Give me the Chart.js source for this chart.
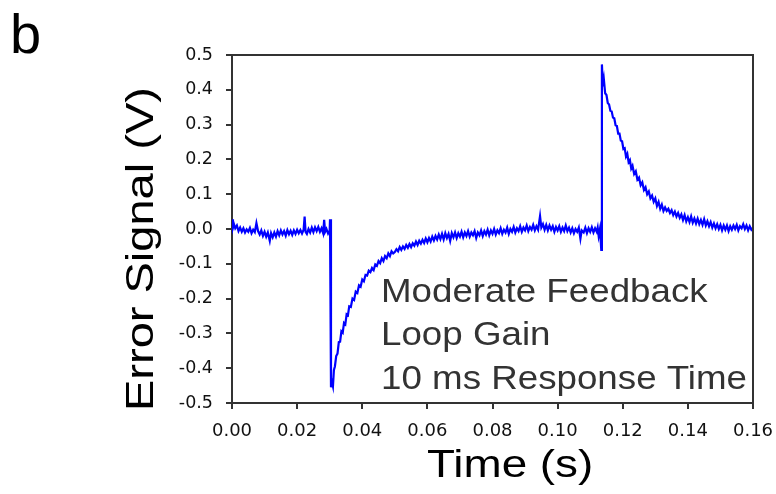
<!DOCTYPE html>
<html>
<head>
<meta charset="utf-8">
<title>Error signal</title>
<script src="https://cdn.jsdelivr.net/npm/chart.js@4.4.1/dist/chart.umd.min.js"></script>
<style>
html, body { margin: 0; padding: 0; background: #fff; }
#wrap { position: relative; width: 776px; height: 494px; }
</style>
</head>
<body>
<div id="wrap"><canvas id="errchart" width="776" height="494"></canvas></div>
<script>
// Trace: [time in ms, error signal in V]
var preStepTrace = [
    [0, 0.028], [0.3, 0.004], [0.6, 0.014], [1, 0.002], [1.5, 0.01], [2, -0.006], [2.5, 0.004],
    [3, -0.008], [3.5, 0.002], [4, -0.01], [4.5, -0.001], [5, -0.008], [5.5, 0.003], [6, -0.012],
    [6.5, -0.002], [7, -0.009], [7.5, 0.017], [8, -0.006], [8.5, -0.016], [9, -0.004], [9.5, -0.02],
    [10, -0.008], [10.5, -0.022], [11, -0.01], [11.6, -0.034], [12, -0.012], [12.5, -0.024],
    [13, -0.01], [13.5, -0.022], [14, -0.006], [14.5, -0.018], [15, -0.004], [15.5, -0.016],
    [16, -0.006], [16.5, -0.019], [17, -0.003], [17.5, -0.015], [18, -0.005], [18.5, -0.017],
    [19, -0.004], [19.5, -0.014], [20, -0.002], [20.5, -0.012], [21, -0.003], [21.5, -0.013],
    [22, -0.002], [22.3, 0.036], [22.6, -0.008], [23, -0.014], [23.5, 0.0], [24, -0.01],
    [24.5, 0.004], [25, -0.009], [25.5, 0.005], [26, -0.006], [26.5, 0.006], [27, -0.008],
    [27.5, 0.002], [28, -0.012], [28.3, 0.026], [28.6, -0.008], [29, 0.0], [29.5, -0.013],
    [30, -0.004], [30.1, 0.028]
];
var dipTrace = [
    [30.4, -0.455], [30.7, -0.44], [31, -0.452], [31.3, -0.405], [31.6, -0.395], [32, -0.365],
    [32.4, -0.358], [32.8, -0.325], [33.2, -0.324], [33.6, -0.294], [34, -0.298], [34.4, -0.27],
    [34.8, -0.274], [35.2, -0.245], [35.6, -0.248], [36, -0.222], [36.5, -0.224], [37, -0.2],
    [37.5, -0.204], [38, -0.18], [38.5, -0.184], [39, -0.162], [39.5, -0.166], [40, -0.145],
    [40.5, -0.15], [41, -0.132], [41.5, -0.134], [42, -0.12], [42.5, -0.124], [43, -0.112],
    [43.5, -0.118], [44, -0.102], [44.5, -0.106], [45, -0.092], [45.5, -0.098], [46, -0.084],
    [46.5, -0.092], [47, -0.078], [47.5, -0.084], [48, -0.07], [48.5, -0.078], [49, -0.064],
    [49.5, -0.07]
];
var settleTrace = [
    [50, -0.066], [50.5, -0.058], [51, -0.064], [51.5, -0.052], [52, -0.06], [52.5, -0.05],
    [53, -0.057], [53.5, -0.046], [54, -0.054], [54.5, -0.043], [55, -0.052], [55.5, -0.041],
    [56, -0.048], [56.5, -0.036], [57, -0.046], [57.5, -0.034], [58, -0.042], [58.5, -0.031],
    [59, -0.04], [59.5, -0.027], [60, -0.038], [60.5, -0.026], [61, -0.036], [61.5, -0.022],
    [62, -0.033], [62.5, -0.02], [63, -0.03], [63.5, -0.016], [64, -0.029], [64.5, -0.014],
    [65, -0.03], [65.5, -0.012], [66, -0.026], [66.5, -0.014], [67, -0.034], [67.5, -0.012],
    [68, -0.024], [68.5, -0.01], [69, -0.026], [69.5, -0.012], [70, -0.022], [70.5, -0.008],
    [71, -0.024], [71.5, -0.01], [72, -0.02], [72.5, -0.006], [73, -0.022], [73.5, -0.01],
    [74, -0.018], [74.5, -0.006], [75, -0.026], [75.5, -0.01], [76, -0.018], [76.5, -0.004],
    [77, -0.02], [77.5, -0.006], [78, -0.016], [78.5, -0.002], [79, -0.018], [79.5, -0.004],
    [80, -0.014], [80.5, 0.0], [81, -0.016], [81.5, -0.004], [82, -0.012], [82.5, 0.002],
    [83, -0.014], [83.5, -0.002], [84, -0.01], [84.5, 0.004], [85, -0.014], [85.5, 0.0],
    [86, -0.008], [86.5, 0.006], [87, -0.01], [87.5, 0.002], [88, -0.006], [88.5, 0.008],
    [89, -0.008], [89.5, 0.004], [90, -0.004], [90.5, 0.01], [91, -0.006], [91.5, 0.006],
    [92, -0.002], [92.5, 0.012], [93, -0.004], [93.5, 0.008], [94, -0.002], [94.6, 0.037],
    [95, 0.004], [95.5, 0.014], [96, -0.002], [96.5, 0.012], [97, -0.004], [97.5, 0.01],
    [98, -0.002], [98.5, 0.008], [99, -0.008], [99.5, 0.006], [100, -0.004], [100.5, 0.008],
    [101, -0.008], [101.5, 0.004], [102, -0.006], [102.5, 0.01], [103, -0.006], [103.5, 0.004],
    [104, -0.01], [104.5, 0.002], [105, -0.012], [105.5, 0.0], [106, -0.008], [106.5, 0.004],
    [107, -0.028], [107.4, -0.004], [108, -0.01], [108.5, 0.004], [109, -0.012], [109.5, 0.002],
    [110, -0.008], [110.5, 0.005], [111, -0.01], [111.5, 0.002], [112, -0.008], [112.3, 0.004],
    [112.6, -0.02], [113, 0.0], [113.4, -0.06]
];
var kickTrace = [
    [113.6, 0.473], [113.9, 0.41], [114.2, 0.43], [114.6, 0.39], [115, 0.385], [115.4, 0.362],
    [115.8, 0.358], [116.2, 0.34], [116.6, 0.338], [117, 0.32], [117.4, 0.318], [117.8, 0.298],
    [118.2, 0.296], [118.6, 0.274], [119, 0.274], [119.4, 0.254], [119.8, 0.252], [120.2, 0.23],
    [120.6, 0.232], [121, 0.208], [121.4, 0.216], [121.8, 0.192], [122.2, 0.198], [122.6, 0.174],
    [123, 0.182], [123.5, 0.158], [124, 0.166], [124.5, 0.142], [125, 0.148], [125.5, 0.126],
    [126, 0.134], [126.5, 0.112], [127, 0.12], [127.5, 0.1], [128, 0.108], [128.5, 0.088],
    [129, 0.096], [129.5, 0.078], [130, 0.088], [130.5, 0.066], [131, 0.078], [131.5, 0.058],
    [132, 0.07], [132.5, 0.052]
];
var tailTrace = [
    [133, 0.062], [133.5, 0.052], [134, 0.058], [134.5, 0.046], [135, 0.054], [135.5, 0.04],
    [136, 0.05], [136.5, 0.036], [137, 0.046], [137.5, 0.032], [138, 0.042], [138.5, 0.026],
    [139, 0.04], [139.5, 0.022], [140, 0.034], [140.5, 0.02], [141, 0.036], [141.5, 0.018],
    [142, 0.03], [142.5, 0.016], [143, 0.03], [143.5, 0.014], [144, 0.026], [144.5, 0.012],
    [145, 0.028], [145.5, 0.01], [146, 0.022], [146.5, 0.008], [147, 0.02], [147.5, 0.004],
    [148, 0.016], [148.5, 0.002], [149, 0.014], [149.5, 0.0], [150, 0.012], [150.5, -0.004],
    [151, 0.01], [151.5, -0.002], [152, 0.01], [152.5, -0.006], [153, 0.008], [153.5, -0.002],
    [154, 0.01], [154.5, 0.0], [155, 0.012], [155.5, -0.004], [156, 0.008], [156.5, 0.002],
    [157, 0.014], [157.5, 0.0], [158, 0.01], [158.5, -0.004], [159, 0.008], [159.5, -0.002],
    [160, 0.004]
];

var timeTicks = [0, 0.02, 0.04, 0.06, 0.08, 0.10, 0.12, 0.14, 0.16];
var signalTicks = [-0.5, -0.4, -0.3, -0.2, -0.1, 0.0, 0.1, 0.2, 0.3, 0.4, 0.5];
var noteLines = ['Moderate Feedback', 'Loop Gain', '10 ms Response Time'];

var points = preStepTrace.concat(dipTrace, settleTrace, kickTrace, tailTrace).map(function(p) {
    return {x: p[0] / 1000, y: p[1]};
});

// draws a line of text stretched along its own direction
function stretchedText(ctx, text, x, y, size, sx, angle, color) {
    ctx.save();
    ctx.translate(x, y);
    if (angle) {
        ctx.rotate(angle);
    }
    ctx.scale(sx, 1);
    ctx.font = size + 'px "Liberation Sans", Arial, sans-serif';
    ctx.fillStyle = color;
    ctx.textAlign = 'left';
    ctx.textBaseline = 'alphabetic';
    ctx.fillText(text, 0, 0);
    ctx.restore();
}

var framePlugin = {
    id: 'frame',
    afterDatasetsDraw: function(chart) {
        var ctx = chart.ctx;
        var a = chart.chartArea;
        ctx.save();
        ctx.strokeStyle = '#333';
        ctx.lineWidth = 2;
        ctx.beginPath();
        ctx.moveTo(a.left, a.top);
        ctx.lineTo(a.right, a.top);
        ctx.lineTo(a.right, a.bottom);
        ctx.stroke();
        ctx.restore();
    },
    afterDraw: function(chart) {
        var ctx = chart.ctx;
        stretchedText(ctx, 'b', 10, 53, 56, 1, 0, '#000');
        stretchedText(ctx, 'Time (s)', 427, 477, 39.5, 1.16, 0, '#000');
        stretchedText(ctx, 'Error Signal (V)', 153, 411, 39.5, 1.19, -Math.PI / 2, '#000');
        for (var i = 0; i < noteLines.length; i++) {
            stretchedText(ctx, noteLines[i], 381, 302 + i * 43.3, 32.5, 1.13, 0, '#333');
        }
    }
};

var ctx = document.getElementById('errchart').getContext('2d');
new Chart(ctx, {
    type: 'line',
    data: {
        datasets: [{
            data: points,
            borderColor: '#0000ff',
            borderWidth: 2.2,
            pointRadius: 0,
            tension: 0,
            fill: false
        }]
    },
    options: {
        responsive: false,
        animation: false,
        devicePixelRatio: 1,
        layout: {padding: {top: 55, right: 23, bottom: 0, left: 0}},
        plugins: {legend: {display: false}, tooltip: {enabled: false}},
        scales: {
            x: {
                type: 'linear',
                min: timeTicks[0],
                max: timeTicks[timeTicks.length - 1],
                afterFit: function(scale) {
                    scale.height = 91;
                    scale.paddingLeft = 0;
                    scale.paddingRight = 0;
                },
                afterBuildTicks: function(scale) {
                    scale.ticks = timeTicks.map(function(v) { return {value: v}; });
                },
                ticks: {
                    padding: 12,
                    color: '#111',
                    maxRotation: 0,
                    autoSkip: false,
                    font: {family: 'DejaVu Sans', size: 18},
                    callback: function(v) { return v.toFixed(2); }
                },
                grid: {drawOnChartArea: false, drawTicks: true, tickLength: 6, color: '#333', lineWidth: 2},
                border: {color: '#333', width: 2}
            },
            y: {
                min: signalTicks[0],
                max: signalTicks[signalTicks.length - 1],
                afterFit: function(scale) { scale.width = 232; },
                afterBuildTicks: function(scale) {
                    scale.ticks = signalTicks.map(function(v) { return {value: v}; });
                },
                ticks: {
                    padding: 13,
                    color: '#111',
                    autoSkip: false,
                    font: {family: 'DejaVu Sans', size: 17.5},
                    callback: function(v) { return v.toFixed(1); }
                },
                grid: {drawOnChartArea: false, drawTicks: true, tickLength: 6, color: '#333', lineWidth: 2},
                border: {color: '#333', width: 2}
            }
        }
    },
    plugins: [framePlugin]
});
</script>
</body>
</html>
